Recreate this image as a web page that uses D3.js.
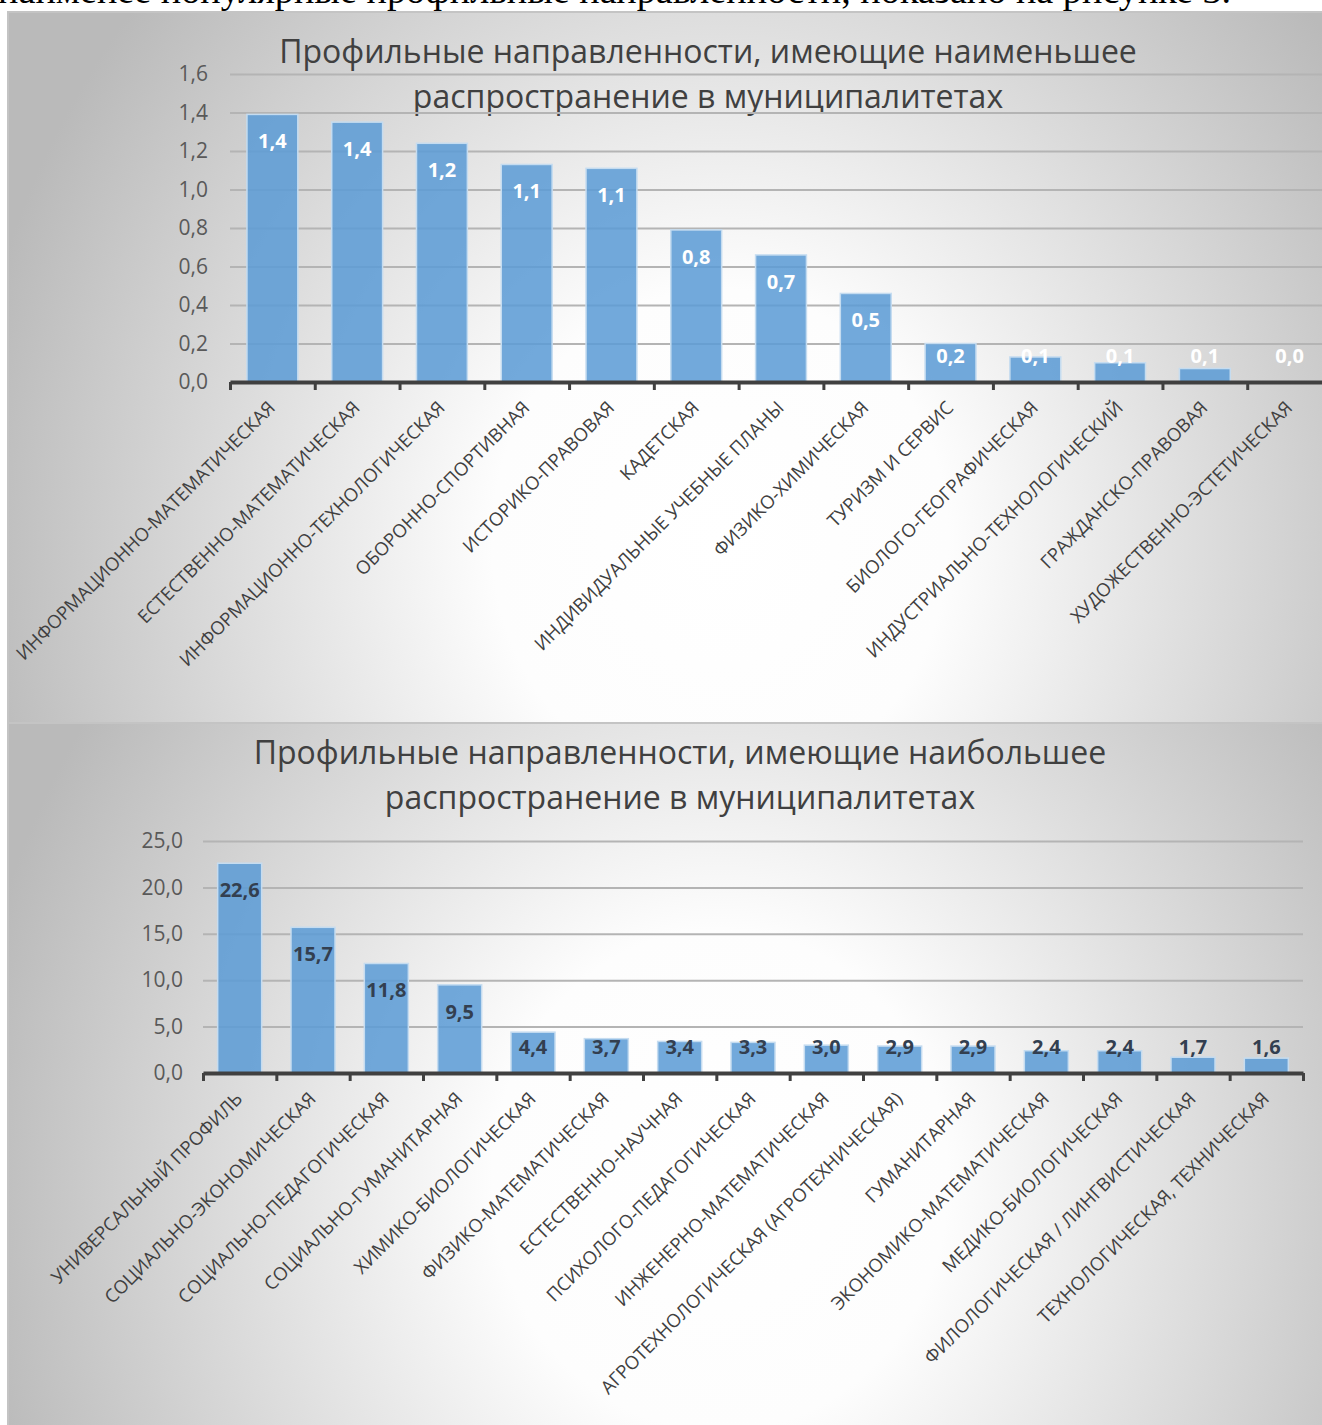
<!DOCTYPE html>
<html><head><meta charset="utf-8">
<script src="https://cdn.jsdelivr.net/npm/d3@7"></script>
<style>html,body{margin:0;padding:0;background:#fff;overflow:hidden}svg{display:block}</style>
</head><body>
<svg id="c" width="1322" height="1425"></svg>
<script>
// ---------- DATA ----------
const bodyText = "наименее популярные профильные направленности, показано на рисунке 3.";

const topTitle = ["Профильные направленности, имеющие наименьшее", "распространение в муниципалитетах"];
const topCategories = [
  "ИНФОРМАЦИОННО-МАТЕМАТИЧЕСКАЯ",
  "ЕСТЕСТВЕННО-МАТЕМАТИЧЕСКАЯ",
  "ИНФОРМАЦИОННО-ТЕХНОЛОГИЧЕСКАЯ",
  "ОБОРОННО-СПОРТИВНАЯ",
  "ИСТОРИКО-ПРАВОВАЯ",
  "КАДЕТСКАЯ",
  "ИНДИВИДУАЛЬНЫЕ УЧЕБНЫЕ ПЛАНЫ",
  "ФИЗИКО-ХИМИЧЕСКАЯ",
  "ТУРИЗМ И СЕРВИС",
  "БИОЛОГО-ГЕОГРАФИЧЕСКАЯ",
  "ИНДУСТРИАЛЬНО-ТЕХНОЛОГИЧЕСКИЙ",
  "ГРАЖДАНСКО-ПРАВОВАЯ",
  "ХУДОЖЕСТВЕННО-ЭСТЕТИЧЕСКАЯ"
];
const topValues = [1.39, 1.35, 1.24, 1.13, 1.11, 0.79, 0.66, 0.46, 0.2, 0.13, 0.1, 0.07, 0.0];
const topTicks = [0, 0.2, 0.4, 0.6, 0.8, 1.0, 1.2, 1.4, 1.6];

const bottomTitle = ["Профильные направленности, имеющие наибольшее", "распространение в муниципалитетах"];
const bottomCategories = [
  "УНИВЕРСАЛЬНЫЙ ПРОФИЛЬ",
  "СОЦИАЛЬНО-ЭКОНОМИЧЕСКАЯ",
  "СОЦИАЛЬНО-ПЕДАГОГИЧЕСКАЯ",
  "СОЦИАЛЬНО-ГУМАНИТАРНАЯ",
  "ХИМИКО-БИОЛОГИЧЕСКАЯ",
  "ФИЗИКО-МАТЕМАТИЧЕСКАЯ",
  "ЕСТЕСТВЕННО-НАУЧНАЯ",
  "ПСИХОЛОГО-ПЕДАГОГИЧЕСКАЯ",
  "ИНЖЕНЕРНО-МАТЕМАТИЧЕСКАЯ",
  "АГРОТЕХНОЛОГИЧЕСКАЯ (АГРОТЕХНИЧЕСКАЯ)",
  "ГУМАНИТАРНАЯ",
  "ЭКОНОМИКО-МАТЕМАТИЧЕСКАЯ",
  "МЕДИКО-БИОЛОГИЧЕСКАЯ",
  "ФИЛОЛОГИЧЕСКАЯ / ЛИНГВИСТИЧЕСКАЯ",
  "ТЕХНОЛОГИЧЕСКАЯ, ТЕХНИЧЕСКАЯ"
];
const bottomValues = [22.6, 15.7, 11.8, 9.5, 4.4, 3.7, 3.4, 3.3, 3.0, 2.9, 2.9, 2.4, 2.4, 1.7, 1.6];
const bottomTicks = [0, 5, 10, 15, 20, 25];

// ---------- DRAW ----------
const svg = d3.select("#c");
const defs = svg.append("defs");
const fmt = v => d3.format(".1f")(v).replace(".", ",");
const FONT = "'Open Sans', sans-serif";

svg.append("text")
  .attr("x", -2).attr("y", 3)
  .attr("font-family", "'Liberation Serif', 'Times New Roman', serif")
  .attr("font-size", 38.2).attr("fill", "#000")
  .text(bodyText);

function drawChart(cfg) {
  const g = svg.append("g");
  const gid = "grad" + cfg.id;
  const grad = defs.append("radialGradient").attr("id", gid)
    .attr("gradientUnits", "userSpaceOnUse")
    .attr("cx", cfg.gc[0]).attr("cy", cfg.gc[1]).attr("r", cfg.gr)
    .attr("gradientTransform", `translate(${cfg.gc[0]},${cfg.gc[1]}) scale(1,${cfg.gsy}) translate(${-cfg.gc[0]},${-cfg.gc[1]})`);
  grad.append("stop").attr("offset", 0).attr("stop-color", "#ffffff");
  grad.append("stop").attr("offset", 0.3).attr("stop-color", "#fdfdfd");
  grad.append("stop").attr("offset", 1).attr("stop-color", "#bababa");

  g.append("rect").attr("x", cfg.panel[0]).attr("y", cfg.panel[1])
    .attr("width", cfg.panel[2]).attr("height", cfg.panel[3])
    .attr("fill", `url(#${gid})`).attr("stroke", "#c4c4c4").attr("stroke-width", 2);

  // title
  cfg.title.forEach((t, i) => {
    g.append("text").attr("x", cfg.titleX).attr("y", cfg.titleY + i * 45)
      .attr("text-anchor", "middle").attr("font-family", FONT)
      .attr("font-size", 32).attr("fill", "#404040").text(t);
  });

  const x = d3.scaleBand().domain(cfg.categories).range([cfg.x0, cfg.x1])
    .paddingInner(0.4).paddingOuter(0.2);
  const y = d3.scaleLinear().domain([0, cfg.ticks[cfg.ticks.length - 1]]).range([cfg.yBase, cfg.yTop]);

  // gridlines + y labels
  const ya = g.append("g").attr("transform", `translate(${cfg.x0},0)`)
    .call(d3.axisLeft(y).tickValues(cfg.ticks).tickFormat(fmt)
      .tickSize(-(cfg.x1 - cfg.x0)).tickPadding(cfg.tickPad));
  ya.select(".domain").remove();
  ya.selectAll(".tick line").attr("stroke", "#b4b4b4").attr("stroke-width", 2);
  ya.selectAll(".tick text").attr("font-family", FONT).attr("font-size", 21).attr("fill", "#595959");

  // bars
  const data = cfg.categories.map((c, i) => ({ c, v: cfg.values[i] }));
  g.selectAll("rect.bar").data(data).enter().append("rect").attr("class", "bar")
    .attr("x", d => x(d.c)).attr("width", x.bandwidth())
    .attr("y", d => y(d.v)).attr("height", d => y(0) - y(d.v))
    .attr("fill", "#5b9bd5").attr("fill-opacity", 0.86)
    .attr("stroke", "#c5dcf0").attr("stroke-width", 1.5);

  // x axis with ticks at band boundaries
  const edges = d3.scaleLinear().domain([0, cfg.categories.length]).range([cfg.x0, cfg.x1]);
  const xa = g.append("g").attr("transform", `translate(0,${cfg.yBase})`)
    .call(d3.axisBottom(edges).tickValues(d3.range(cfg.categories.length + 1))
      .tickFormat("").tickSize(8).tickSizeOuter(0));
  xa.select(".domain").attr("stroke", "#404040").attr("stroke-width", 4);
  xa.selectAll(".tick line").attr("stroke", "#404040").attr("stroke-width", 3);

  // data labels
  g.selectAll("text.dl").data(data).enter().append("text").attr("class", "dl")
    .attr("x", d => x(d.c) + x.bandwidth() / 2)
    .attr("y", d => Math.min(y(d.v) + 27, cfg.yBase - 26))
    .attr("dy", "0.35em").attr("text-anchor", "middle")
    .attr("font-family", FONT).attr("font-weight", "bold").attr("font-size", 20)
    .attr("fill", cfg.labelColor).text(d => fmt(d.v));

  // category labels
  g.selectAll("text.cat").data(data).enter().append("text").attr("class", "cat")
    .attr("transform", d => `translate(${x(d.c) + x.bandwidth() / 2 + cfg.catDx},${cfg.yBase + cfg.catDy}) rotate(-45)`)
    .attr("text-anchor", "end").attr("font-family", FONT).attr("font-size", cfg.catSize)
    .attr("fill", "#404040").text(d => d.c);
}

drawChart({
  id: 1, panel: [8, 12, 1400, 711], gc: [720, 540], gr: 760, gsy: 1.1,
  title: topTitle, titleX: 708, titleY: 63,
  categories: topCategories, values: topValues, ticks: topTicks,
  x0: 230, x1: 1332, yBase: 382, yTop: 74, tickPad: 22,
  labelColor: "#ffffff", catDx: 4, catDy: 27, catSize: 18.5
});
drawChart({
  id: 2, panel: [8, 723, 1350, 720], gc: [720, 1180], gr: 760, gsy: 1.1,
  title: bottomTitle, titleX: 680, titleY: 764,
  categories: bottomCategories, values: bottomValues, ticks: bottomTicks,
  x0: 203, x1: 1303, yBase: 1073, yTop: 841, tickPad: 20,
  labelColor: "#333f50", catDx: 4, catDy: 27, catSize: 18.5
});
</script>
</body></html>
